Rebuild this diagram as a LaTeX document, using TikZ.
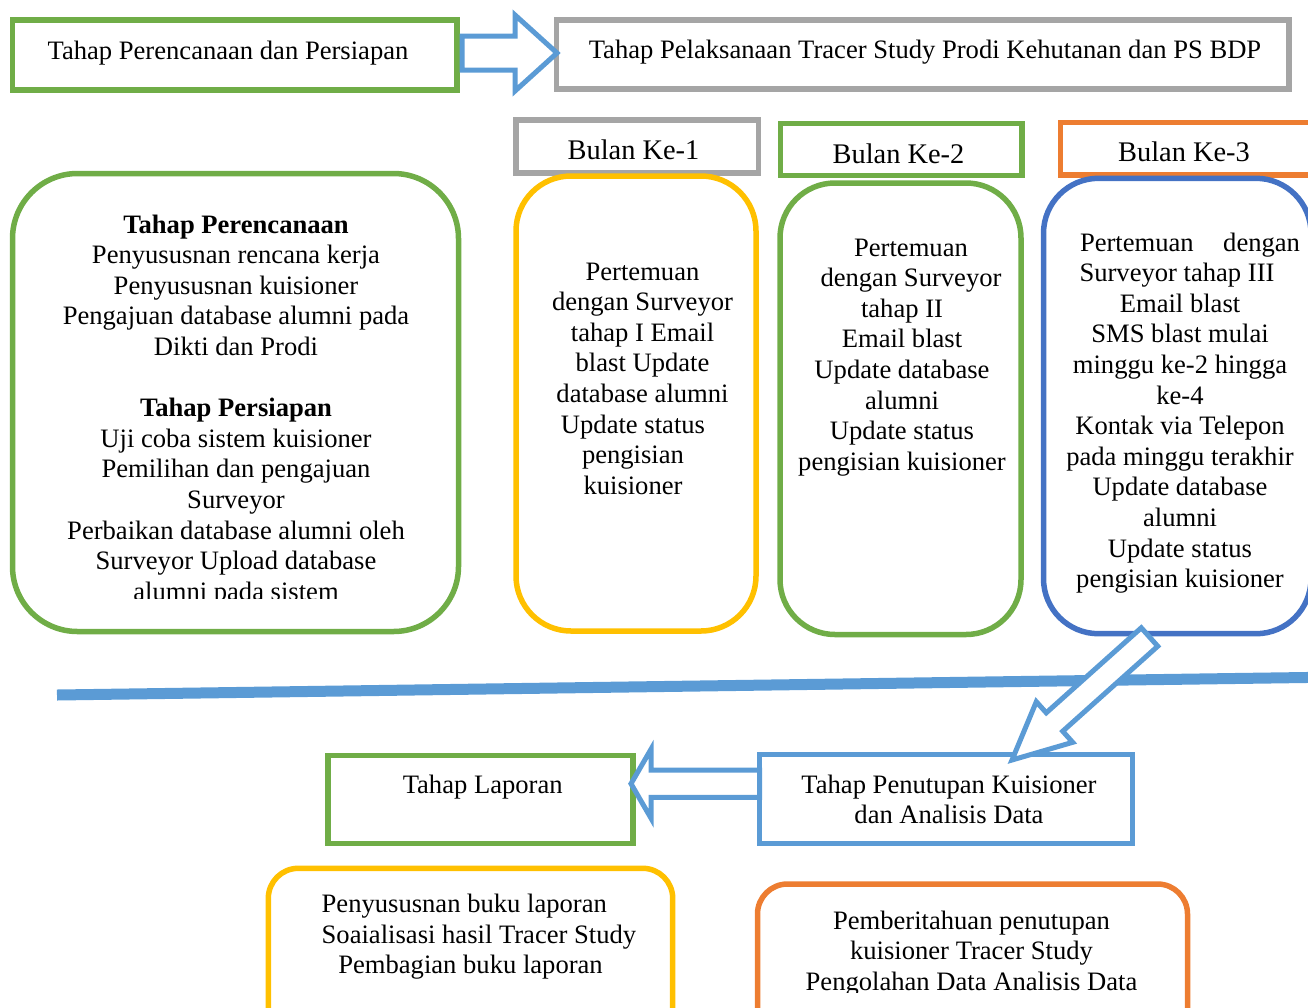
\documentclass[tikz,border=0pt]{standalone}
\usepackage{fontspec}
\setmainfont{Liberation Serif}
\usetikzlibrary{calc}
\definecolor{cgreen}{HTML}{70AD47}
\definecolor{cgray}{HTML}{A5A5A5}
\definecolor{corange}{HTML}{ED7D31}
\definecolor{cyellow}{HTML}{FFC000}
\definecolor{clblue}{HTML}{5B9BD5}
\definecolor{cdblue}{HTML}{4472C4}
\newcommand\fsN{\fontsize{26.6}{30.6}\selectfont}
\newcommand\fsB{\fontsize{28.4}{32.6}\selectfont}
\newcommand{\myblockarrow}[5]{%
  \coordinate (#1hb) at ($(#2)!#5!(#1)$);
  \draw[barrow] ($(#1)!#3!90:(#2)$) -- ($(#1hb)!#3!-90:(#1)$) -- ($(#1hb)!#4!-90:(#1)$) -- (#2)
     -- ($(#1hb)!#4!90:(#1)$) -- ($(#1hb)!#3!90:(#1)$) -- ($(#1)!#3!-90:(#2)$) -- cycle;
}
\begin{document}
\begin{tikzpicture}[x=1pt,y=-1pt,
  box/.style={draw=#1, line width=5.5pt, rectangle, inner sep=0pt, outer sep=0pt},
  rbox/.style 2 args={box=#1, rounded corners=#2},
  barrow/.style={draw=clblue, fill=white, line width=5pt, line join=miter},
  sepline/.style={draw=clblue, line width=11pt},
  txt/.style={inner sep=0pt, outer sep=0pt, anchor=base, font=\fsN},
  btxt/.style={txt, font=\fsB}]
\useasboundingbox (0,0) rectangle (1308,1007);

% top boxes
\node[box=cgreen, minimum width=444.5, minimum height=70] (boxA) at (234.75,55) {};
\node[box=cgray, minimum width=732.5, minimum height=69] (boxB) at (922.75,54.5) {};
% month headers
\node[box=cgray, minimum width=242.5, minimum height=53] (bk1) at (637.25,146.5) {};
\node[box=cgreen, minimum width=241.5, minimum height=52] (bk2) at (901.25,149.5) {};
\node[box=corange, minimum width=279.5, minimum height=52.5] (bk3) at (1200.25,148.75) {};
% rounded content boxes
\node[rbox={cgreen}{65pt}, minimum width=446, minimum height=458] (left) at (235.5,402.5) {};
\node[rbox={cyellow}{55pt}, minimum width=240, minimum height=455] (m1) at (636,403.5) {};
\node[rbox={cgreen}{55pt}, minimum width=241, minimum height=451.5] (m2) at (900.5,408.75) {};
\node[rbox={cdblue}{55pt}, minimum width=267.5, minimum height=455.4] (m3) at (1177.25,406) {};
% bottom boxes
\node[box=cgreen, minimum width=305, minimum height=88.4] (lap) at (480.5,799.5) {};
\node[box=clblue, minimum width=372.8, minimum height=89] (pen) at (946.1,799) {};
\node[rbox={cyellow}{30pt}, minimum width=404.4, minimum height=171.7] (yb) at (470.5,954.15) {};
\node[rbox={corange}{30pt}, minimum width=430, minimum height=156] (ob) at (972.5,962) {};

% separator line
\coordinate (L1) at (57,695);
\coordinate (L2) at (1320,677.3);
\draw[sepline] (L1) -- (L2);

% block arrows
\coordinate (a1s) at (462,53);
\coordinate (a1t) at (557,53);
\myblockarrow{a1s}{a1t}{17pt}{38pt}{42pt}
\coordinate (a2s) at (759.7,783.7);
\coordinate (a2t) at (631,783.7);
\myblockarrow{a2s}{a2t}{13.7pt}{34.5pt}{20pt}
\coordinate (a3s) at (1149.5,637);
\coordinate (a3t) at (1012,760);
\myblockarrow{a3s}{a3t}{12.35pt}{27.25pt}{57pt}

% texts
\node[txt] (tA) at (228,59) {Tahap Perencanaan dan Persiapan};
\node[txt] (tB) at (925,58) {Tahap Pelaksanaan Tracer Study Prodi Kehutanan dan PS BDP};
\node[btxt] (tk1) at (633.5,159) {Bulan Ke-1};
\node[btxt] (tk2) at (898.5,163) {Bulan Ke-2};
\node[btxt] (tk3) at (1184,161.7) {Bulan Ke-3};

\begin{scope}
\clip (0,0) rectangle (1308,598);
\node[txt] (tleft) at (236,233) {\begin{tabular}[t]{@{}c@{}}
\textbf{Tahap Perencanaan}\\
Penyususnan rencana kerja\\
Penyususnan kuisioner\\
Pengajuan database alumni pada\\
Dikti dan Prodi\\
\\
\textbf{Tahap Persiapan}\\
Uji coba sistem kuisioner\\
Pemilihan dan pengajuan\\
Surveyor\\
Perbaikan database alumni oleh\\
Surveyor Upload database\\
alumni pada sistem
\end{tabular}};
\end{scope}

\node[txt] (tm1) at (633,280) {\begin{tabular}[t]{@{}c@{}}
\hspace*{19pt}Pertemuan\\
\hspace*{19pt}dengan Surveyor\\
\hspace*{19pt}tahap I Email\\
\hspace*{19pt}blast Update\\
\hspace*{19pt}database alumni\\
Update status\\
pengisian\\
kuisioner
\end{tabular}};

\node[txt] (tm2) at (902,256) {\begin{tabular}[t]{@{}c@{}}
\hspace*{18pt}Pertemuan\\
\hspace*{18pt}dengan Surveyor\\
tahap II\\
Email blast\\
Update database\\
alumni\\
Update status\\
pengisian kuisioner
\end{tabular}};

\node[txt] (tm3) at (1180,251) {\begin{tabular}[t]{@{}c@{}}
\hspace*{20pt}\makebox[220pt]{Pertemuan\hfill dengan}\\
Surveyor tahap III\hspace*{6pt}\\
Email blast\\
SMS blast mulai\\
minggu ke-2 hingga\\
ke-4\\
Kontak via Telepon\\
pada minggu terakhir\\
Update database\\
alumni\\
Update status\\
pengisian kuisioner
\end{tabular}};

\node[txt] (tlap) at (482.7,793.3) {Tahap Laporan};
\node[txt] (tpen) at (949,793) {\begin{tabular}[t]{@{}c@{}}
Tahap Penutupan Kuisioner\\
dan Analisis Data
\end{tabular}};

\node[txt, anchor=base west] (tyb) at (321.7,912.7) {\begin{tabular}[t]{@{}l@{}}
Penyususnan buku laporan\\
Soaialisasi hasil Tracer Study\\
\hspace*{16.6pt}Pembagian buku laporan
\end{tabular}};

\begin{scope}
\clip (0,0) rectangle (1308,992);
\node[txt] (tob) at (971.5,929) {\begin{tabular}[t]{@{}c@{}}
Pemberitahuan penutupan\\
kuisioner Tracer Study\\
Pengolahan Data Analisis Data
\end{tabular}};
\end{scope}
\end{tikzpicture}
\end{document}
